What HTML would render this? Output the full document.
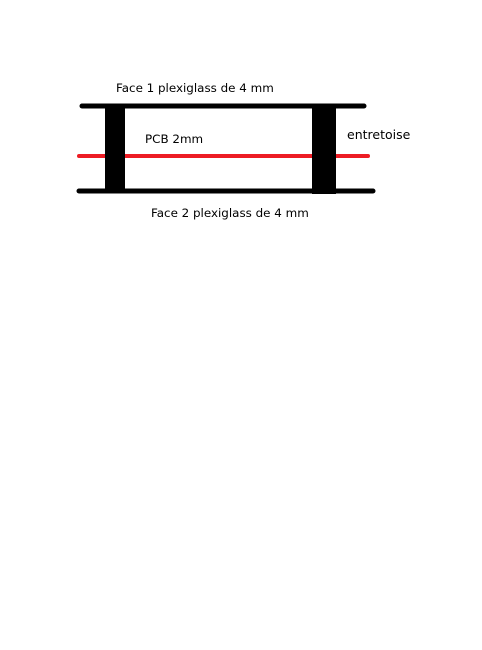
<!DOCTYPE html>
<html><head><meta charset="utf-8"><style>
body{margin:0;width:482px;height:645px;background:#fff;overflow:hidden}
svg text{font-family:"DejaVu Sans","Liberation Sans",sans-serif;font-size:11.9px;fill:#000}
</style></head><body>
<svg width="482" height="645">
<line x1="82" y1="106" x2="364" y2="106" stroke="#000" stroke-width="5" stroke-linecap="round"/>
<line x1="79" y1="191" x2="373" y2="191" stroke="#000" stroke-width="5" stroke-linecap="round"/>
<line x1="79" y1="156" x2="368" y2="156" stroke="#ed1c24" stroke-width="4" stroke-linecap="round"/>
<rect x="105" y="106" width="20" height="85" fill="#000"/>
<rect x="312" y="106" width="24" height="88" fill="#000"/>
<text x="116" y="92">Face 1 plexiglass de 4 mm</text>
<text x="145" y="143">PCB 2mm</text>
<text x="347" y="139" style="font-size:12.5px">entretoise</text>
<text x="151" y="217">Face 2 plexiglass de 4 mm</text>
</svg>
</body></html>
